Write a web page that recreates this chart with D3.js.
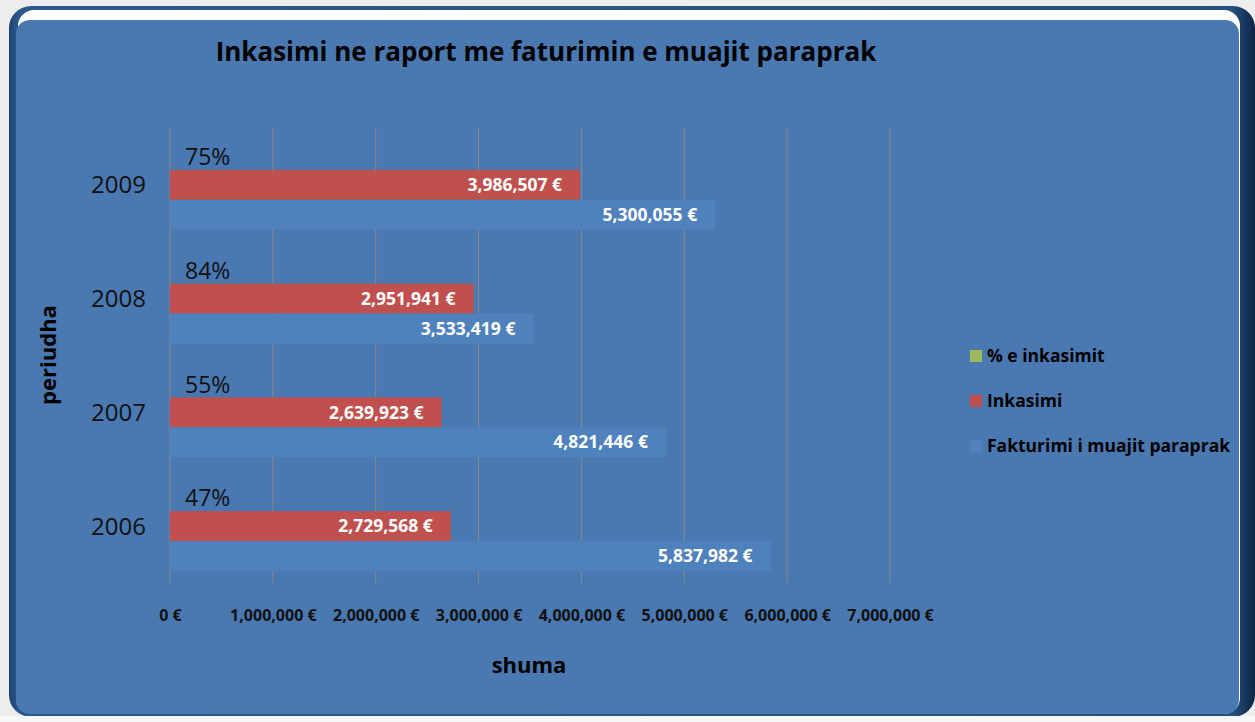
<!DOCTYPE html>
<html><head><meta charset="utf-8">
<script src="https://cdn.jsdelivr.net/npm/d3@7"></script>
<style>body{margin:0;background:#ededed;}svg{display:block;}text{font-family:"Open Sans",Lato,sans-serif;}</style>
</head><body>
<script>
const categories = ["2009","2008","2007","2006"];
const seriesNames = ["% e inkasimit","Inkasimi","Fakturimi i muajit paraprak"];
const pctValues = [0.75,0.84,0.55,0.47];
const inkasimiValues = [3986507,2951941,2639923,2729568];
const fakturimiValues = [5300055,3533419,4821446,5837982];
const xTicks = [0,1000000,2000000,3000000,4000000,5000000,6000000,7000000];
const colors = ["#9bbb59","#c0504d","#4f81bd"];

const W=1255,H=722;
const svg=d3.select("body").append("svg").attr("width",W).attr("height",H);
const defs=svg.append("defs");
const g1=defs.append("linearGradient").attr("id","edge").attr("x1",0).attr("x2",1).attr("y1",0).attr("y2",0);
g1.append("stop").attr("offset","0").attr("stop-color","#1d4370");
g1.append("stop").attr("offset","0.008").attr("stop-color","#2d5a8e");
g1.append("stop").attr("offset","0.982").attr("stop-color","#24507f");
g1.append("stop").attr("offset","1").attr("stop-color","#0e2544");

svg.append("rect").attr("width",W).attr("height",H).attr("fill","#ededed");
svg.append("rect").attr("x",9).attr("y",6).attr("width",1246).attr("height",711).attr("rx",22).attr("fill","url(#edge)");
svg.append("rect").attr("x",18).attr("y",10).attr("width",1222).attr("height",704).attr("rx",16).attr("fill","#ffffff");
svg.append("rect").attr("x",16).attr("y",20).attr("width",1223).attr("height",694).attr("rx",14).attr("fill","#4a78b0");
svg.append("rect").attr("x",0).attr("y",716).attr("width",W).attr("height",6).attr("fill","#f4f6f8");

const x=d3.scaleLinear().domain([0,7000000]).range([170,890]);
const y=d3.scaleBand().domain(categories).range([128,583]);
const inner=d3.scaleBand().domain(seriesNames).range([12,y.bandwidth()-12]);

// gridlines
svg.append("g").selectAll("line").data(xTicks).join("line")
  .attr("x1",d=>x(d)).attr("x2",d=>x(d)).attr("y1",128).attr("y2",583)
  .attr("stroke","#8a8a8a").attr("stroke-width",1);

// x axis
const xAxis=d3.axisBottom(x).tickValues(xTicks).tickSize(0).tickFormat(d=>d3.format(",")(d)+" €");
const xa=svg.append("g").attr("transform","translate(0,610)").call(xAxis);
xa.select(".domain").remove();
xa.selectAll("text").attr("font-size",16).attr("font-weight","bold").attr("fill","#111").attr("dy","0.71em").attr("y",0);

// y axis
const yAxis=d3.axisLeft(y).tickSize(0);
const ya=svg.append("g").attr("transform","translate(146,0)").call(yAxis);
ya.select(".domain").remove();
ya.selectAll("text").attr("font-size",24).attr("fill","#111").attr("x",0).attr("dy","0.35em");

const rows=categories.map((c,i)=>({c,vals:[pctValues[i],inkasimiValues[i],fakturimiValues[i]]}));
const groups=svg.append("g").selectAll("g").data(rows).join("g").attr("transform",d=>`translate(0,${y(d.c)})`);
groups.selectAll("rect").data(d=>d.vals.map((v,j)=>({v,s:seriesNames[j],j}))).join("rect")
  .attr("x",x(0)).attr("y",d=>inner(d.s)).attr("height",inner.bandwidth())
  .attr("width",d=>x(d.v)-x(0)).attr("fill",d=>colors[d.j]);
// value labels
groups.selectAll("text.val").data(d=>d.vals.slice(1).map((v,j)=>({v,s:seriesNames[j+1]}))).join("text")
  .attr("class","val").attr("x",d=>x(d.v)-18).attr("y",d=>inner(d.s)+inner.bandwidth()/2)
  .attr("text-anchor","end").attr("dy","0.35em").attr("fill","#fff").attr("font-weight","bold").attr("font-size",17.5)
  .text(d=>d3.format(",")(d.v)+" €");
// percent labels
groups.append("text").attr("x",185).attr("y",inner(seriesNames[0])+inner.bandwidth()/2+2)
  .attr("dy","0.35em").attr("font-size",23).attr("fill","#111")
  .text(d=>d3.format(".0%")(d.vals[0]));

// title
svg.append("text").attr("x",546).attr("y",52).attr("text-anchor","middle").attr("dy","0.35em")
  .attr("font-size",26).attr("font-weight","bold").attr("fill","#000")
  .text("Inkasimi ne raport me faturimin e muajit paraprak");
// axis titles
svg.append("text").attr("x",529).attr("y",665).attr("text-anchor","middle").attr("dy","0.35em")
  .attr("font-size",22).attr("font-weight","bold").attr("fill","#000").text("shuma");
svg.append("text").attr("transform","translate(48,355) rotate(-90)").attr("text-anchor","middle").attr("dy","0.35em")
  .attr("font-size",22).attr("font-weight","bold").attr("fill","#000").text("periudha");

// legend
const lg=svg.append("g").selectAll("g").data(seriesNames).join("g").attr("transform",(d,i)=>`translate(970,${356+i*45})`);
lg.append("rect").attr("x",0).attr("y",-6).attr("width",12).attr("height",12).attr("fill",(d,i)=>colors[i]);
lg.append("text").attr("x",17).attr("dy","0.35em").attr("font-size",17.5).attr("font-weight","bold").attr("fill","#000").text(d=>d);
</script>
</body></html>
